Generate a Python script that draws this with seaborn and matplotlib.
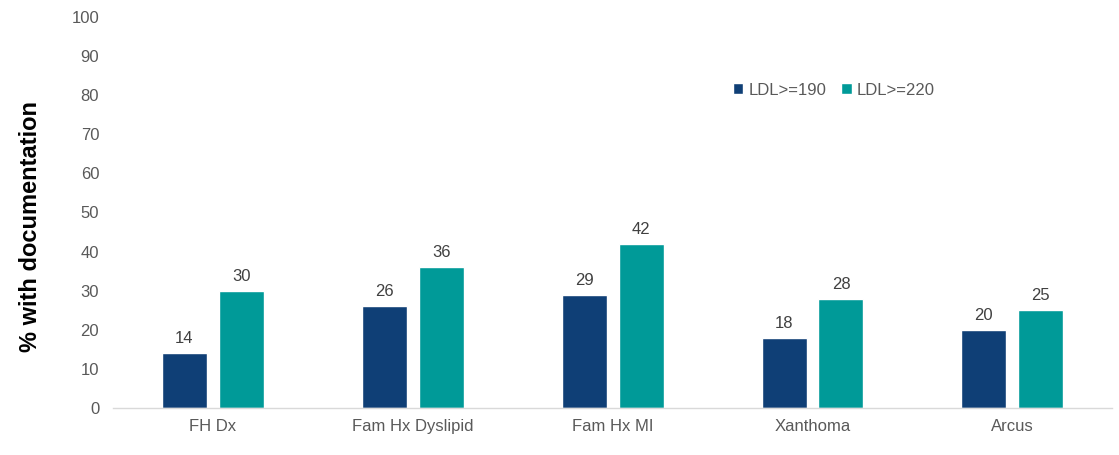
import matplotlib
matplotlib.use("Agg")
import matplotlib.pyplot as plt
import seaborn as sns
import pandas as pd

categories = ["FH Dx", "Fam Hx Dyslipid", "Fam Hx MI", "Xanthoma", "Arcus"]
ldl190 = [14, 26, 29, 18, 20]
ldl220 = [30, 36, 42, 28, 25]
series_names = ["LDL>=190", "LDL>=220"]
colors = ["#0F3F76", "#009A98"]

df = pd.DataFrame({
    "cat": categories * 2,
    "val": ldl190 + ldl220,
    "series": [series_names[0]] * 5 + [series_names[1]] * 5,
})

sns.set_style("white")
plt.rcParams["font.family"] = ["Liberation Sans", "DejaVu Sans"]

fig = plt.figure(figsize=(11.19, 4.55), dpi=100)
ax = fig.add_axes([0.101, 0.103, 0.893, 0.86])

sns.barplot(data=df, x="cat", y="val", hue="series", palette=colors,
            width=0.57, gap=0.21, ax=ax, saturation=1, legend=True)

for c in ax.containers:
    ax.bar_label(c, labels=[f"{v:.0f}" for v in c.datavalues], padding=5,
                 fontsize=12, color="#404040")

ax.set_ylim(0, 100)
ax.set_yticks(range(0, 101, 10))
ax.set_xlim(-0.5, 4.5)
ax.set_xlabel("")
ax.set_ylabel("% with documentation", fontsize=17, fontweight="bold",
              color="#000000")
ax.yaxis.set_label_coords(-0.071, 0.463)
ax.tick_params(axis="both", labelsize=12, colors="#595959", length=0)
ax.tick_params(axis="y", pad=10)
ax.tick_params(axis="x", pad=8)
for s in ["top", "right", "left"]:
    ax.spines[s].set_visible(False)
ax.spines["bottom"].set_color("#D9D9D9")
ax.spines["bottom"].set_linewidth(1)

leg = ax.legend(loc="upper left", bbox_to_anchor=(0.605, 0.87), ncol=2,
                frameon=False, fontsize=12, handlelength=0.65, handleheight=0.65,
                handletextpad=0.3, columnspacing=0.9)
for t in leg.get_texts():
    t.set_color("#595959")

fig.savefig("out.png", dpi=100)
